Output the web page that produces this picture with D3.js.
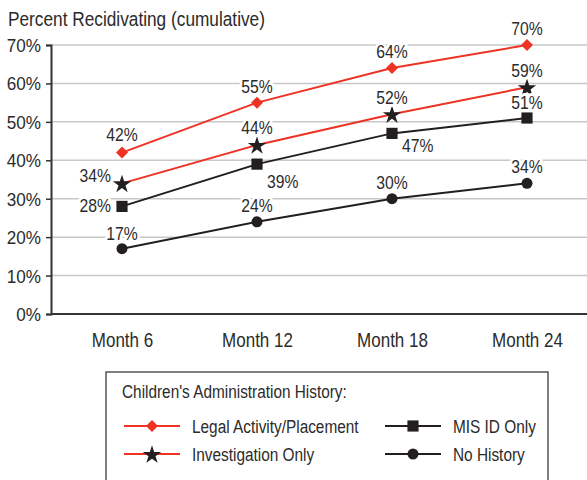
<!DOCTYPE html>
<html><head><meta charset="utf-8">
<script src="https://cdn.jsdelivr.net/npm/d3@7"></script>
<style>
body{margin:0;background:#fff;}
svg{font-family:"Liberation Sans",Arial,sans-serif;}
</style></head><body>
<svg id="c" width="587" height="480"></svg>
<script>
const categories = ["Month 6","Month 12","Month 18","Month 24"];
const legalActivity = [42,55,64,70];
const investigationOnly = [34,44,52,59];
const misIdOnly = [28,39,47,51];
const noHistory = [17,24,30,34];
const yTicks = [0,10,20,30,40,50,60,70];

const TXT = "#2b2b2b";
const series = [
  {name:"Legal Activity/Placement", values:legalActivity, color:"#ee3224", mark:"diamond",
   lab:[["a",-12],["a",-10],["a",-10],["a",-10]]},
  {name:"Investigation Only", values:investigationOnly, color:"#ee3224", mark:"star",
   lab:[["l",-1],["a",-11],["a",-10],["a",-10]]},
  {name:"MIS ID Only", values:misIdOnly, color:"#231f20", mark:"square",
   lab:[["l",6],["r",24],["r",19],["a",-9]]},
  {name:"No History", values:noHistory, color:"#231f20", mark:"circle",
   lab:[["a",-9],["a",-10],["a",-10],["a",-10]]}
];

const svg = d3.select("#c");
const x = d3.scalePoint().domain(categories).range([122,527]);
const y = d3.scaleLinear().domain([0,70]).range([314,45]);
const axX = 51, rightX = 587;

function ctext(parent, tx, ty, str, size, sx, anchor, halo){
  const t = parent.append("text")
    .attr("transform",`translate(${tx},${ty}) scale(${sx},1)`)
    .attr("font-size",size).attr("fill",TXT).attr("text-anchor",anchor||"start").text(str);
  if(halo) t.attr("stroke","#fff").attr("stroke-width",6).attr("paint-order","stroke").attr("stroke-linejoin","round");
  return t;
}

// title
ctext(svg, 8, 26, "Percent Recidivating (cumulative)", 19.5, 0.885, "start");

// gridlines
svg.append("g").selectAll("line").data(yTicks.filter(d=>d>0)).join("line")
  .attr("x1",axX).attr("x2",rightX).attr("y1",d=>y(d)).attr("y2",d=>y(d))
  .attr("stroke","#c8c8c8").attr("stroke-width",1.5);

// y axis (ticks via d3 axis, labels condensed)
const yAxis = d3.axisLeft(y).tickValues(yTicks).tickFormat("").tickSize(5);
const gy = svg.append("g").attr("transform",`translate(${axX},0)`).call(yAxis);
gy.select(".domain").attr("stroke","#333").attr("stroke-width",2);
gy.selectAll(".tick line").attr("stroke","#333").attr("stroke-width",1.5);
gy.selectAll(".tick").each(function(d){
  ctext(d3.select(this), -10, 6.5, d+"%", 19, 0.9, "end");
});

// x axis
const xAxis = d3.axisBottom(x).tickSize(0).tickFormat("");
const gx = svg.append("g").attr("transform",`translate(0,${y(0)})`).call(xAxis);
gx.select(".domain").remove();
gx.append("line").attr("x1",axX).attr("x2",rightX).attr("y1",0).attr("y2",0).attr("stroke","#333").attr("stroke-width",2);
gx.selectAll(".tick").each(function(d){
  ctext(d3.select(this), 0, 33, d, 20, 0.85, "middle");
});

function diamondPath(s){return `M0,${-s}L${s},0L0,${s}L${-s},0Z`;}
function drawMark(g, type, color){
  if(type==="diamond") g.append("path").attr("d",diamondPath(6)).attr("fill",color);
  else if(type==="star") g.append("path").attr("d",d3.symbol(d3.symbolStar,105)()).attr("fill","#231f20").attr("transform","translate(0,1)");
  else if(type==="square") g.append("path").attr("d",d3.symbol(d3.symbolSquare,125)()).attr("fill","#231f20");
  else g.append("circle").attr("r",5.5).attr("fill","#231f20");
}

const line = d3.line().x((d,i)=>x(categories[i])).y(d=>y(d));
series.forEach(s=>{
  svg.append("path").attr("d",line(s.values)).attr("fill","none").attr("stroke",s.color).attr("stroke-width",2);
});
series.forEach(s=>{
  s.values.forEach((v,i)=>{
    const g = svg.append("g").attr("transform",`translate(${x(categories[i])},${y(v)})`);
    drawMark(g,s.mark,s.color);
  });
});
// labels
series.forEach(s=>{
  s.values.forEach((v,i)=>{
    const px=x(categories[i]), py=y(v);
    const [pos,dy]=s.lab[i];
    let tx=px, anchor="middle";
    if(pos==="l"){tx=px-11; anchor="end";}
    if(pos==="r"){tx=px+10; anchor="start";}
    ctext(svg, tx, py+dy, v+"%", 18.5, 0.85, anchor, true);
  });
});

// legend
const lg = svg.append("g");
lg.append("rect").attr("x",106).attr("y",372).attr("width",442).attr("height",120)
  .attr("fill","#fff").attr("stroke","#555").attr("stroke-width",1.5);
ctext(lg, 122, 398, "Children's Administration History:", 18.5, 0.83, "start");
const legendPos = [[124,426],[124,454],[385,426],[385,454]];
series.forEach((s,k)=>{
  const [lx,ly]=legendPos[k];
  lg.append("line").attr("x1",lx).attr("x2",lx+56).attr("y1",ly).attr("y2",ly).attr("stroke",s.color).attr("stroke-width",2);
  const g = lg.append("g").attr("transform",`translate(${lx+28},${ly})`);
  drawMark(g,s.mark,s.color);
  ctext(lg, lx+68, ly+7, s.name, 19, 0.81, "start");
});
</script></body></html>
